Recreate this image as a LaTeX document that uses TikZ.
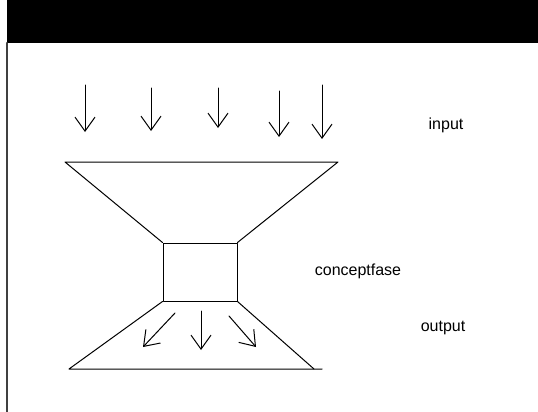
\documentclass[tikz,border=0pt]{standalone}
\usepackage{fontspec}
\setmainfont{Liberation Sans}
\usetikzlibrary{arrows.meta}
\begin{document}
\begin{tikzpicture}[x=1pt,y=-1pt,line cap=round,line join=round,line width=1pt,
  flow/.style={-{Straight Barb[length=14pt,width=20pt]}},
  lbl/.style={font=\fontsize{16}{18}\selectfont,inner sep=0pt}]
\useasboundingbox (0,0) rectangle (538,412);
% frame
\fill (7,0) rectangle (538,43);
\draw[line width=2pt,black!75] (7,43) -- (7,412);
% input arrows
\foreach \x/\t/\b [count=\i] in {85/85/132,151/88/131,218/88/128,279/91/137,322/85/139}{
  \coordinate (in\i a) at (\x,\t);
  \coordinate (in\i b) at (\x,\b);
  \draw[flow] (in\i a) -- (in\i b);
}
% funnel
\node[draw,minimum width=74pt,minimum height=58pt,inner sep=0pt] (fase) at (200,272) {};
\coordinate (tl) at (65,162);
\coordinate (tr) at (338,162);
\coordinate (bl) at (69,369);
\coordinate (br) at (322,369);
\draw (fase.north west) -- (tl) -- (tr) -- (fase.north east);
\draw (fase.south west) -- (bl) -- (br);
\draw (fase.south east) -- (314,369);
% output arrows
\coordinate (out1a) at (175,313); \coordinate (out1b) at (143,347);
\coordinate (out2a) at (201,311); \coordinate (out2b) at (201,350);
\coordinate (out3a) at (229,316); \coordinate (out3b) at (256,347);
\foreach \i in {1,2,3}
  \draw[flow] (out\i a) -- (out\i b);
% labels
\node[lbl] (input) at (446,125) {input};
\node[lbl] (concept) at (358,271) {conceptfase};
\node[lbl] (output) at (443,328) {output};
\end{tikzpicture}
\end{document}
